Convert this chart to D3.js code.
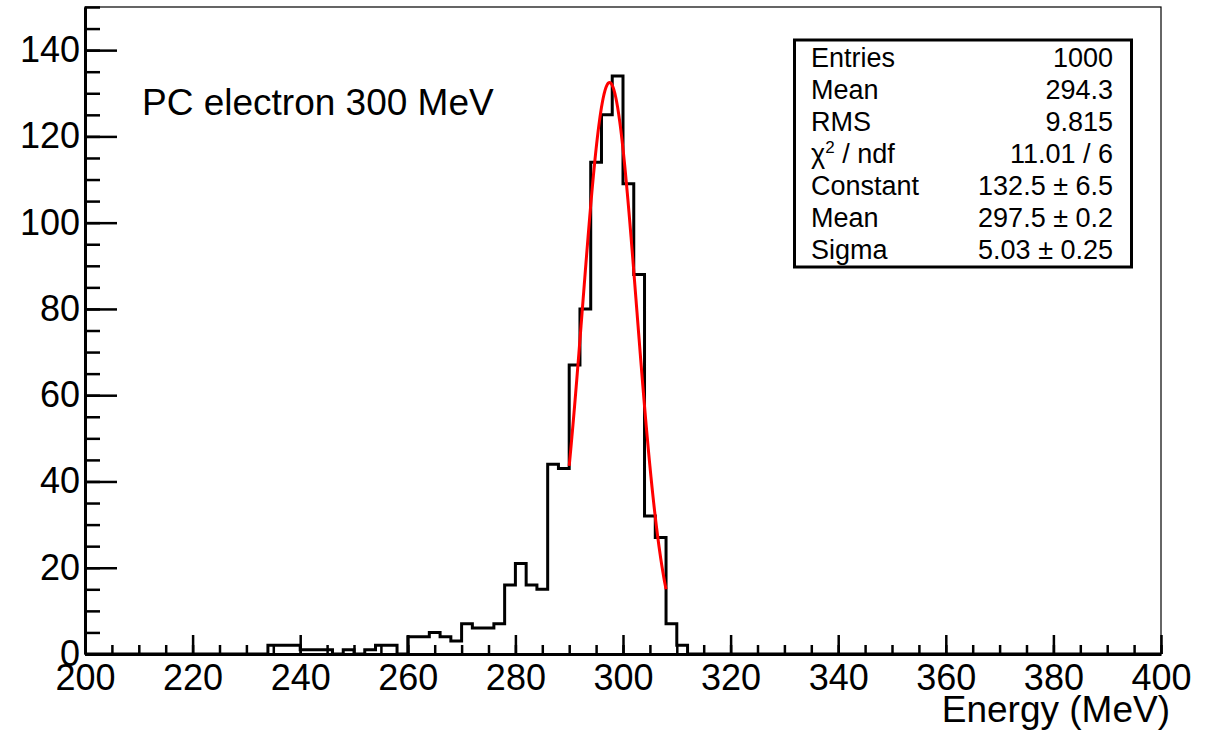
<!DOCTYPE html>
<html>
<head>
<meta charset="utf-8">
<script src="https://cdn.jsdelivr.net/npm/d3@7"></script>
<style>
  html, body { margin: 0; padding: 0; background: #fff; }
  svg { display: block; font-family: "Liberation Sans", Arial, Helvetica, sans-serif; }
</style>
</head>
<body>
<svg id="chart" width="1209" height="733"></svg>
<script>
// ---------------- data ----------------
const binStart = 200;
const binWidth = 2;
// counts per 2 MeV bin, 200..400 MeV (100 bins)
const counts = [
  0,0,0,0,0,0,0,0,0,0,          // 200-220
  0,0,0,0,0,0,0,2,2,2,          // 220-240
  1,1,1,0,1,0,1,2,2,0,          // 240-260
  4,4,5,4,3,7,6,6,7,16,         // 260-280
  21,16,15,44,43,67,80,114,125,134, // 280-300
  109,88,32,27,7,2,0,0,0,0,     // 300-320
  0,0,0,0,0,0,0,0,0,0,          // 320-340
  0,0,0,0,0,0,0,0,0,0,          // 340-360
  0,0,0,0,0,0,0,0,0,0,          // 360-380
  0,0,0,0,0,0,0,0,0,0           // 380-400
];
// Gaussian fit parameters (from the stat box) and fit range
const fitConstant = 132.5;
const fitMean = 297.5;
const fitSigma = 5.03;
const fitRange = [290, 308];

const xMajorTicks = [200,220,240,260,280,300,320,340,360,380,400];
const yMajorTicks = [0,20,40,60,80,100,120,140];

const statLabels = ["Entries", "Mean", "RMS", "CHI", "Constant", "Mean", "Sigma"];
const statValues = ["1000", "294.3", "9.815", "11.01 / 6", "132.5 \u00b1 6.5", "297.5 \u00b1 0.2", "5.03 \u00b1 0.25"];

const titleText = "PC electron 300 MeV";
const xTitle = "Energy (MeV)";

// ---------------- layout ----------------
const svg = d3.select("#chart");
const L = 85, R = 1161, T = 7, B = 654;

const x = d3.scaleLinear().domain([200, 400]).range([L, R]);
const y = d3.scaleLinear().domain([0, 150]).range([B, T]);

// frame (thin top / right)
svg.append("rect")
  .attr("x", L).attr("y", T).attr("width", R - L).attr("height", B - T)
  .attr("fill", "none").attr("stroke", "#000").attr("stroke-width", 1.2);

// histogram
const pts = [];
counts.forEach((c, i) => {
  const x0 = binStart + i * binWidth, x1 = x0 + binWidth;
  pts.push([x0, c]); pts.push([x1, c]);
});
svg.append("path")
  .attr("d", d3.line().x(d => x(d[0])).y(d => y(d[1]))(pts))
  .attr("fill", "none").attr("stroke", "#000").attr("stroke-width", 3)
  .attr("stroke-linejoin", "miter");

// fit curve
const fitPts = [];
for (let e = fitRange[0]; e <= fitRange[1] + 1e-9; e += 0.1) {
  fitPts.push([e, fitConstant * Math.exp(-0.5 * Math.pow((e - fitMean) / fitSigma, 2))]);
}
svg.append("path")
  .attr("d", d3.line().x(d => x(d[0])).y(d => y(d[1]))(fitPts))
  .attr("fill", "none").attr("stroke", "#ff0000").attr("stroke-width", 3);

// ---------------- axes ----------------
const fontTick = 36;

// x minor
svg.append("g").attr("transform", `translate(0,${B})`)
  .call(d3.axisBottom(x).tickValues(d3.range(200, 401, 5)).tickSize(-9).tickSizeOuter(0).tickFormat(""))
  .call(g => g.select(".domain").remove())
  .call(g => g.selectAll("line").attr("stroke-width", 2.5));
// x major
svg.append("g").attr("transform", `translate(0,${B})`)
  .call(d3.axisBottom(x).tickValues(xMajorTicks).tickSize(-19).tickSizeOuter(0).tickPadding(10).tickFormat(d3.format("d")))
  .call(g => g.select(".domain").attr("stroke-width", 3))
  .call(g => g.selectAll("line").attr("stroke-width", 2.5))
  .call(g => g.selectAll("text").attr("font-size", fontTick).attr("fill", "#000")
    .attr("font-family", "Liberation Sans, Arial, sans-serif"));

// y minor
svg.append("g").attr("transform", `translate(${L},0)`)
  .call(d3.axisLeft(y).tickValues(d3.range(0, 151, 5)).tickSize(-15).tickSizeOuter(0).tickFormat(""))
  .call(g => g.select(".domain").remove())
  .call(g => g.selectAll("line").attr("stroke-width", 2.5));
// y major
svg.append("g").attr("transform", `translate(${L},0)`)
  .call(d3.axisLeft(y).tickValues(yMajorTicks).tickSize(-32).tickSizeOuter(0).tickPadding(5).tickFormat(d3.format("d")))
  .call(g => g.select(".domain").attr("stroke-width", 3))
  .call(g => g.selectAll("line").attr("stroke-width", 2.5))
  .call(g => g.selectAll("text").attr("font-size", fontTick).attr("fill", "#000")
    .attr("font-family", "Liberation Sans, Arial, sans-serif"));

// x title
svg.append("text")
  .attr("x", 1170).attr("y", 722).attr("text-anchor", "end")
  .attr("font-size", 37).attr("fill", "#000").text(xTitle);

// plot label
svg.append("text")
  .attr("x", 142).attr("y", 115)
  .attr("font-size", 37).attr("fill", "#000").text(titleText);

// ---------------- stat box ----------------
const bx = 794.5, by = 40, bw = 337, bh = 227;
svg.append("rect")
  .attr("x", bx).attr("y", by).attr("width", bw).attr("height", bh)
  .attr("fill", "#fff").attr("stroke", "#000").attr("stroke-width", 3);

const rowStep = 32.1, firstBase = 66.5, statFont = 27;
statLabels.forEach((lab, i) => {
  const t = svg.append("text")
    .attr("x", 811).attr("y", firstBase + i * rowStep)
    .attr("font-size", statFont).attr("fill", "#000");
  if (lab === "CHI") {
    t.append("tspan").text("\u03c7");
    t.append("tspan").attr("font-size", 17).attr("dy", -10).text("2");
    t.append("tspan").attr("dy", 10).text(" / ndf");
  } else {
    t.text(lab);
  }
  svg.append("text")
    .attr("x", 1113).attr("y", firstBase + i * rowStep)
    .attr("text-anchor", "end")
    .attr("font-size", statFont).attr("fill", "#000").text(statValues[i]);
});
</script>
</body>
</html>
